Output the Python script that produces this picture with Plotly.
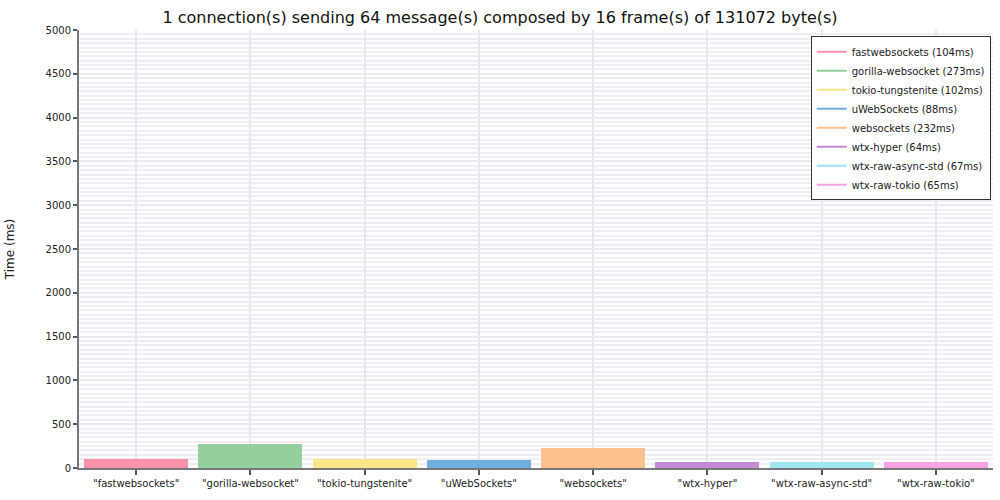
import plotly.graph_objects as go

categories = ["fastwebsockets", "gorilla-websocket", "tokio-tungstenite", "uWebSockets",
              "websockets", "wtx-hyper", "wtx-raw-async-std", "wtx-raw-tokio"]
times_ms = [104, 273, 102, 88, 232, 64, 67, 65]
tick_labels = ['"fastwebsockets"', '"gorilla-websocket"', '"tokio-tungstenite"', '"uWebSockets"',
               '"websockets"', '"wtx-hyper"', '"wtx-raw-async-std"', '"wtx-raw-tokio"']
legend_labels = [f"{c} ({t}ms)" for c, t in zip(categories, times_ms)]
colors = ["#f891aa", "#96cf9e", "#fde68a", "#6cb0de", "#fdc08f", "#c48ad6", "#a0e6f2", "#f7a2e6"]
y_ticks = list(range(0, 5001, 500))

fig = go.Figure()
fig.add_trace(go.Bar(
    x=list(range(len(categories))), y=times_ms,
    marker=dict(color=colors, line=dict(width=0)),
    width=0.91, showlegend=False, hoverinfo="skip",
))
for lbl, col in zip(legend_labels, colors):
    fig.add_trace(go.Scatter(x=[None], y=[None], mode="lines", name=lbl,
                             line=dict(color=col, width=2)))

fig.update_layout(
    width=1000, height=500,
    margin=dict(l=79, r=7, t=30, b=32, autoexpand=False),
    paper_bgcolor="white", plot_bgcolor="white",
    font=dict(family="DejaVu Sans", size=10, color="#222"),
    title=dict(text="1 connection(s) sending 64 message(s) composed by 16 frame(s) of 131072 byte(s)",
               x=0.5, xanchor="center", y=0.966, yanchor="middle",
               font=dict(size=16, color="#111")),
    legend=dict(x=0.9975, xanchor="right", y=0.986, yanchor="top",
                bordercolor="#333", borderwidth=1, bgcolor="white",
                font=dict(size=10, color="#222"), tracegroupgap=0,
                itemwidth=30),
    bargap=0,
)
fig.update_xaxes(
    range=[-0.5, 7.5], tickmode="array", tickvals=list(range(len(categories))),
    ticktext=tick_labels, ticks="outside", ticklen=5, tickcolor="#555", tickwidth=2,
    showline=True, linecolor="#777", linewidth=2, automargin=False,
    showgrid=True, gridcolor="#e9e6ed", gridwidth=1.5, zeroline=False,
    tickfont=dict(size=10, color="#222"),
)
fig.update_yaxes(
    range=[0, 5000], tickmode="array", tickvals=y_ticks, ticktext=[str(v) for v in y_ticks],
    ticks="outside", ticklen=4, tickcolor="#555", tickwidth=1.5,
    showline=True, linecolor="#777", linewidth=2, automargin=False,
    showgrid=True, gridcolor="#ece9f0", gridwidth=1.5, zeroline=False,
    minor=dict(dtick=50, showgrid=True, gridcolor="#efedf3", gridwidth=1.5),
    title=dict(text="Time (ms)", font=dict(size=12, color="#222"), standoff=28),
    tickfont=dict(size=10, color="#222"),
)

fig.write_html("out.html", config={"displayModeBar": False},
               post_script="document.body.style.margin='0';")
